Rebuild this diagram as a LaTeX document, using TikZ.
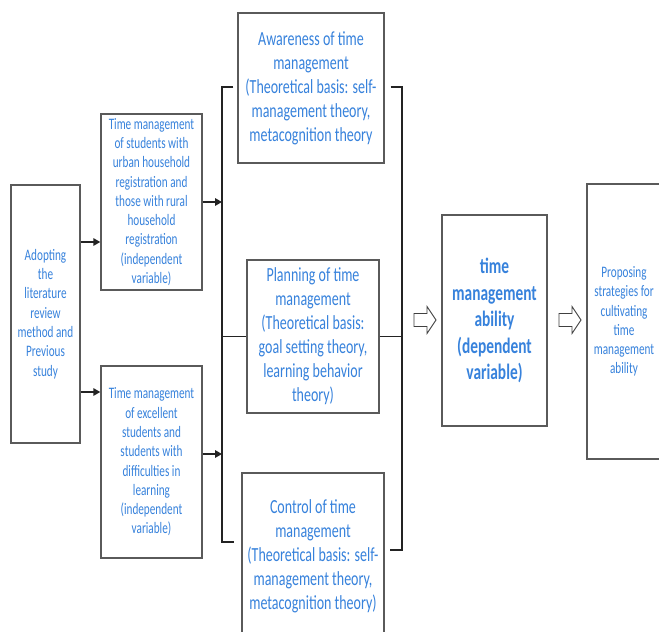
\documentclass[tikz,border=0pt]{standalone}
\usepackage{fontspec}
\setmainfont{Carlito}[FakeStretch=0.7]
\usetikzlibrary{arrows.meta,calc}
\definecolor{tblue}{RGB}{55,130,220}
\definecolor{boxgray}{RGB}{90,90,90}
\definecolor{linek}{RGB}{35,35,35}
\tikzset{
  box/.style={draw=boxgray, line width=1.4pt, text=tblue, align=center, inner sep=0pt},
  openbox/.style={text=tblue, align=center, inner sep=0pt},
  openline/.style={draw=boxgray, line width=1.6pt},
  small/.style={font=\fontsize{16}{19.3}\selectfont},
  large/.style={font=\fontsize{20}{24}\selectfont},
  bigbold/.style={font=\fontsize{22}{26.5}\selectfont\bfseries},
  conn/.style={draw=linek, line width=1.6pt},
  arr/.style={conn, -{Triangle[length=7pt,width=7.5pt]}},
  hollow/.style={draw=black!75, line width=0.9pt, fill=white, line join=miter}
}
\begin{document}
\begin{tikzpicture}[x=1pt,y=-1pt]
\useasboundingbox (0,0) rectangle (659,632);
\fill[white] (0,0) rectangle (659,632);

% boxes
\node[box, small, minimum width=69pt, minimum height=258pt] (lit) at (45.5,314)
  {Adopting\\the\\literature\\review\\method and\\Previous\\study};
\node[box, small, minimum width=101pt, minimum height=176pt] (urb) at (151.5,202)
  {Time management\\of students with\\urban household\\registration and\\those with rural\\household\\registration\\(independent\\variable)};
\node[box, small, minimum width=101pt, minimum height=192pt] (exc) at (151.5,462)
  {Time management\\of excellent\\students and\\students with\\difficulties in\\learning\\(independent\\variable)};
\node[box, large, minimum width=146pt, minimum height=150pt] (aw) at (311,88)
  {Awareness of time\\management\\(Theoretical basis: self-\\management theory,\\metacognition theory};
\node[box, large, minimum width=132pt, minimum height=153pt] (pl) at (313,336.5)
  {Planning of time\\management\\(Theoretical basis:\\goal setting theory,\\learning behavior\\theory)};
\node[openbox, large, minimum width=142pt, minimum height=167pt] (ctl) at (313,556.5)
  {Control of time\\management\\(Theoretical basis: self-\\management theory,\\metacognition theory)};
\draw[openline] (ctl.south west) -- (ctl.north west) -- (ctl.north east) -- (ctl.south east);
\node[box, bigbold, minimum width=105pt, minimum height=211pt] (dep) at (494.5,320.5)
  {time\\management\\ability\\(dependent\\variable)};
\node[openbox, small, minimum width=74pt, minimum height=275pt] (prop) at (624,321.5)
  {Proposing\\strategies for\\cultivating\\time\\management\\ability};
\draw[openline] (prop.north east) -- (prop.north west) -- (prop.south west) -- (prop.south east);

% arrows from literature box
\coordinate (a1) at ([yshift=72pt]lit.east);
\coordinate (a2) at ([yshift=-78pt]lit.east);
\draw[arr] (a1) -- (a1 -| urb.west);
\draw[arr] (a2) -- (a2 -| exc.west);

% left bus
\coordinate (bL1) at (222,87);
\coordinate (bL2) at (222,542);
\draw[conn] ([xshift=-4pt]aw.west |- bL1) -- (bL1) -- (bL2) -- ([xshift=-8pt]ctl.west |- bL2);
\draw[conn] (pl.west -| bL1) -- (pl.west);
\draw[arr] (urb.east) -- (urb.east -| bL1);
\coordinate (a3) at ([yshift=8pt]exc.east);
\draw[arr] (a3) -- (a3 -| bL1);

% right bus
\coordinate (bR1) at (402,87);
\coordinate (bR2) at (402,550);
\draw[conn] ([xshift=6pt]aw.east |- bR1) -- (bR1) -- (bR2) -- ([xshift=6pt]ctl.east |- bR2);
\draw[conn] (pl.east) -- (pl.east -| bR1);

% hollow block arrows
\draw[hollow, shift={(425,320)}] (-11,-6.5) -- (2,-6.5) -- (2,-13.5) -- (11,0) -- (2,13.5) -- (2,6.5) -- (-11,6.5) -- cycle;
\draw[hollow, shift={(570,320)}] (-11,-6.5) -- (2,-6.5) -- (2,-13.5) -- (11,0) -- (2,13.5) -- (2,6.5) -- (-11,6.5) -- cycle;
\end{tikzpicture}
\end{document}
